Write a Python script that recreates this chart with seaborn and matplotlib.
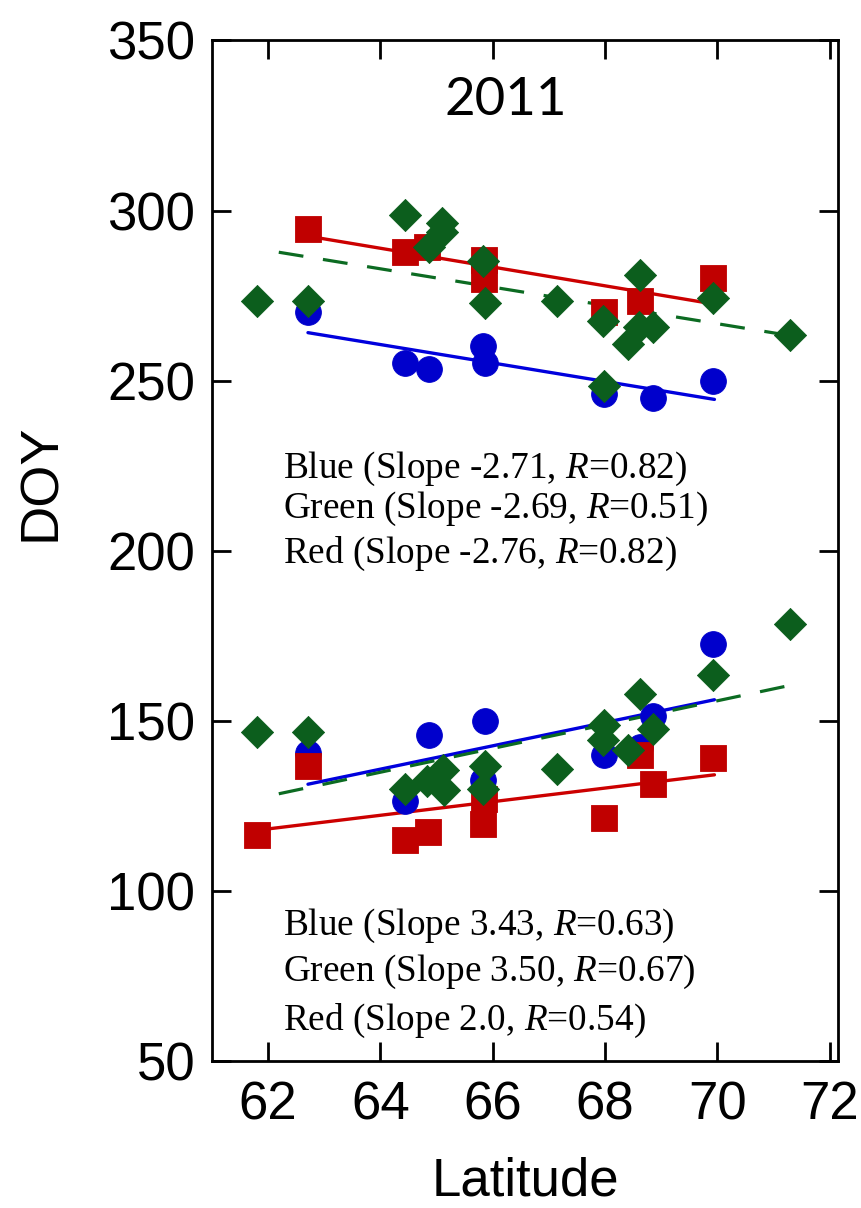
import numpy as np
import pandas as pd
import matplotlib
matplotlib.use("Agg")
import matplotlib.pyplot as plt
import seaborn as sns

# ---- autumn (upper group) ----
blue_fall_lat = [62.71, 64.44, 64.86, 65.82, 65.87, 67.99, 68.86, 69.93]
blue_fall_doy = [270.1, 255.1, 253.4, 260.1, 255.1, 246.2, 244.9, 249.9]
red_fall_lat = [62.71, 64.44, 64.83, 65.84, 65.84, 67.99, 68.62, 69.93]
red_fall_doy = [294.5, 287.9, 289.4, 285.4, 280.0, 270.2, 273.5, 280.2]
green_fall_lat = [61.81, 62.71, 64.44, 64.86, 65.10, 65.10, 65.82, 65.87, 67.14,
                  67.96, 67.99, 68.62, 68.60, 68.86, 68.41, 69.93, 71.30]
green_fall_doy = [273.5, 273.5, 298.7, 289.4, 296.2, 293.8, 285.1, 272.7, 273.5,
                  267.6, 248.5, 281.0, 265.8, 265.8, 260.9, 274.4, 263.4]

# ---- spring (lower group) ----
blue_spr_lat = [62.71, 64.44, 64.86, 65.87, 65.82, 67.99, 68.62, 68.86, 69.93]
blue_spr_doy = [140.4, 126.4, 145.7, 149.9, 132.5, 139.9, 142.3, 151.5, 172.7]
red_spr_lat = [61.81, 62.71, 64.44, 64.85, 65.84, 65.82, 67.99, 68.62, 68.86, 69.93]
red_spr_doy = [116.3, 136.7, 114.9, 117.3, 127.1, 119.8, 121.4, 139.9, 131.5, 139.1]
green_spr_lat = [61.81, 62.71, 64.44, 64.83, 65.12, 65.13, 65.87, 65.82, 67.14,
                 67.99, 67.96, 68.62, 68.41, 68.86, 69.93, 71.30]
green_spr_doy = [146.7, 146.7, 129.9, 132.3, 135.4, 129.6, 136.7, 129.9, 135.7,
                 148.7, 144.3, 158.0, 141.5, 147.5, 163.4, 178.6]

# regression statistics
slopes_fall = {"Blue": -2.71, "Green": -2.69, "Red": -2.76}
r_fall = {"Blue": 0.82, "Green": 0.51, "Red": 0.82}
slopes_spr = {"Blue": 3.43, "Green": 3.50, "Red": 2.0}
r_spr = {"Blue": 0.63, "Green": 0.67, "Red": 0.54}
slope_text_spr = {"Blue": "3.43", "Green": "3.50", "Red": "2.0"}

# latitude span covered by each fitted line
span_fall = {"Blue": [62.71, 69.95], "Red": [62.71, 69.93], "Green": [62.19, 71.30]}
span_spr = {"Blue": [62.71, 69.95], "Red": [62.00, 69.95], "Green": [62.19, 71.33]}

xticks = [62, 64, 66, 68, 70, 72]
yticks = [50, 100, 150, 200, 250, 300, 350]

sns.set_theme(style="ticks")
plt.rcParams["font.family"] = ["Liberation Sans", "DejaVu Sans"]
plt.rcParams["text.color"] = "black"
plt.rcParams["axes.labelcolor"] = "black"
plt.rcParams["mathtext.fontset"] = "custom"
plt.rcParams["mathtext.rm"] = "Liberation Serif"
plt.rcParams["mathtext.it"] = "Liberation Serif:italic"

marker_col = {"Blue": "#0000CC", "Red": "#C00000", "Green": "#0C5E1D"}
line_col = {"Blue": "#0000DD", "Red": "#CC0000", "Green": "#0C6B22"}

fig = plt.figure(figsize=(8.62, 12.08), dpi=100)
ax = fig.add_axes([0.2459, 0.1217, 0.7262, 0.8448])

groups = [
    ({"Blue": (blue_fall_lat, blue_fall_doy), "Red": (red_fall_lat, red_fall_doy),
      "Green": (green_fall_lat, green_fall_doy)}, slopes_fall, span_fall),
    ({"Blue": (blue_spr_lat, blue_spr_doy), "Red": (red_spr_lat, red_spr_doy),
      "Green": (green_spr_lat, green_spr_doy)}, slopes_spr, span_spr),
]

# fitted lines first, markers on top
for data, slopes, spans in groups:
    for name in ["Blue", "Red", "Green"]:
        lat, doy = data[name]
        b = slopes[name]
        a = np.mean(doy) - b * np.mean(lat)
        xs = np.array(spans[name])
        df = pd.DataFrame({"lat": xs, "doy": a + b * xs})
        kw = dict(color=line_col[name], lw=2.4)
        if name == "Green":
            kw.update(dashes=(7.8, 6.2), lw=2.3)
        sns.lineplot(data=df, x="lat", y="doy", ax=ax, **kw)

markers = {"Blue": ("o", 345), "Red": ("s", 335), "Green": ("D", 268)}
for data, _, _ in groups:
    for name in ["Blue", "Red", "Green"]:
        lat, doy = data[name]
        m, s = markers[name]
        sns.scatterplot(x=lat, y=doy, marker=m, s=s, color=marker_col[name],
                        edgecolor=marker_col[name], linewidth=0.6, ax=ax, zorder=3)

ax.set_xlim(61.0, 72.15)
ax.set_ylim(50, 350)
ax.set_xticks(xticks)
ax.set_yticks(yticks)
ax.tick_params(direction="in", length=14, width=2, top=True, right=True,
               labelsize=38, colors="black")
ax.tick_params(axis="x", pad=14)
ax.tick_params(axis="y", pad=12)
for sp in ax.spines.values():
    sp.set_linewidth(2)
    sp.set_color("black")

ax.set_xlabel("Latitude", fontsize=38, labelpad=19)
ax.set_ylabel("DOY", fontsize=39)
ax.yaxis.set_label_coords(-0.233, 0.567)

ax.text(0.469, 0.941, "2011", transform=ax.transAxes, ha="center", va="center",
        fontsize=38, family="Lato")

ann_fall_y = [0.580, 0.541, 0.497]
ann_spr_y = [0.132, 0.087, 0.039]
for name, yy in zip(["Blue", "Green", "Red"], ann_fall_y):
    ax.text(0.113, yy, f"{name} (Slope {slopes_fall[name]:.2f}, $\\mathit{{R}}$={r_fall[name]:.2f})",
            transform=ax.transAxes, ha="left", va="center", fontsize=26.8,
            family="Liberation Serif")
for name, yy in zip(["Blue", "Green", "Red"], ann_spr_y):
    ax.text(0.113, yy, f"{name} (Slope {slope_text_spr[name]}, $\\mathit{{R}}$={r_spr[name]:.2f})",
            transform=ax.transAxes, ha="left", va="center", fontsize=26.8,
            family="Liberation Serif")

fig.savefig("out.png", dpi=100)
